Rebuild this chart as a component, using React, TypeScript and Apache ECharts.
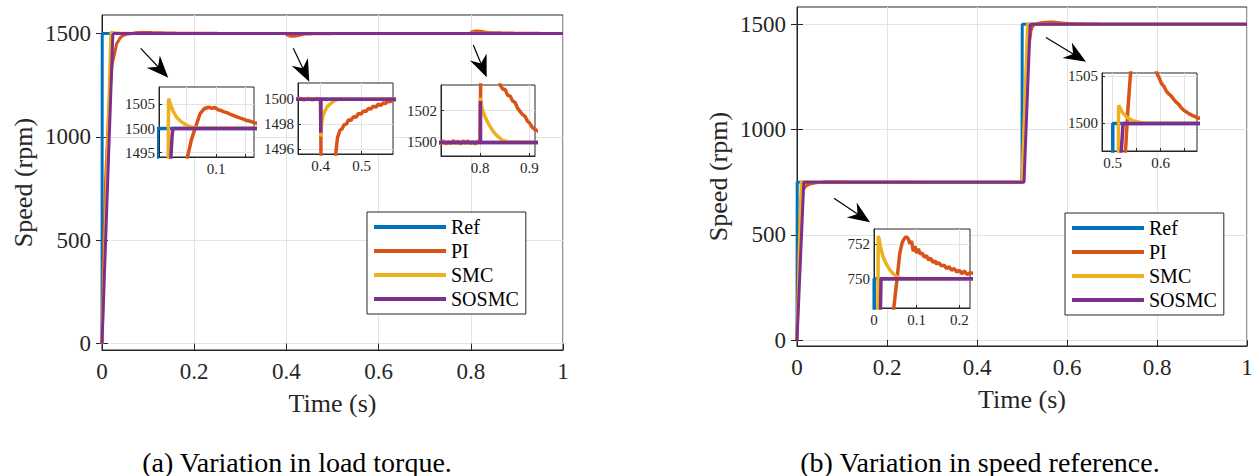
import React, { useEffect, useRef } from 'react';
import * as echarts from 'echarts';

const FONT = 'Liberation Serif';
const C_REF = '#0072BD';
const C_PI = '#D95319';
const C_SMC = '#EDB120';
const C_SOSMC = '#7E2F8E';
const AXIS_C = '#262626';
const GRID_C = '#e3e3e3';

// ---------- DATA: (a) Variation in load torque ----------
const refA = [[0, 0], [0.0005, 1500], [1, 1500]];
const piA = [
  [0, 0], [0.003, 400], [0.008, 800], [0.015, 1150], [0.022, 1350], [0.032, 1451], [0.04, 1480], [0.046, 1490],
  [0.0514, 1494], [0.058, 1497.6], [0.0644, 1500], [0.0729, 1503.1], [0.08, 1504.1], [0.087, 1504.4], [0.093, 1504.2],
  [0.098, 1504.35], [0.103, 1503.9], [0.107, 1503.8], [0.112, 1503.5], [0.118, 1503.3], [0.123, 1503.0], [0.129, 1502.7],
  [0.135, 1502.4], [0.141, 1502.15], [0.146, 1501.95], [0.152, 1501.65], [0.158, 1501.5], [0.164, 1501.2], [0.2, 1500.6],
  [0.25, 1500.25], [0.3, 1500.1], [0.34, 1500.02], [0.35, 1500.06], [0.36, 1499.95], [0.37, 1500.06], [0.38, 1499.95],
  [0.39, 1500.05], [0.4, 1500], [0.4015, 1492], [0.41, 1486], [0.42, 1487], [0.43, 1492], [0.437, 1495.7], [0.441, 1496.9],
  [0.447, 1497.5], [0.452, 1497.6], [0.457, 1497.95], [0.463, 1498.0], [0.468, 1498.35], [0.474, 1498.3], [0.48, 1498.6],
  [0.486, 1498.55], [0.492, 1498.85], [0.498, 1498.8], [0.504, 1499.05], [0.51, 1499.0], [0.516, 1499.25], [0.522, 1499.2],
  [0.528, 1499.45], [0.534, 1499.35], [0.54, 1499.6], [0.546, 1499.5], [0.552, 1499.7], [0.558, 1499.65], [0.564, 1499.85],
  [0.57, 1499.8], [0.576, 1499.95], [0.6, 1500], [0.65, 1500.02], [0.72, 1499.95], [0.725, 1500.1], [0.73, 1499.9],
  [0.735, 1500.05], [0.74, 1499.92], [0.745, 1500.12], [0.75, 1499.95], [0.755, 1500.08], [0.76, 1499.9], [0.765, 1500.1],
  [0.77, 1499.95], [0.775, 1500.1], [0.78, 1499.92], [0.785, 1500.05], [0.79, 1499.9], [0.795, 1500.08], [0.8, 1500],
  [0.8015, 1507], [0.81, 1512], [0.82, 1510], [0.83, 1506.5], [0.8406, 1503.6], [0.846, 1503.35], [0.851, 1503.3],
  [0.856, 1502.95], [0.861, 1502.9], [0.866, 1502.6], [0.871, 1502.5], [0.876, 1502.15], [0.881, 1501.95], [0.886, 1501.75],
  [0.891, 1501.65], [0.896, 1501.35], [0.901, 1501.2], [0.906, 1500.95], [0.912, 1500.8], [0.95, 1500.3], [1, 1500.1],
];
const smcA = [
  [0, 0], [0.0185, 1470], [0.0192, 1500], [0.0197, 1506.2], [0.022, 1505.2], [0.026, 1503.9], [0.03, 1503.0],
  [0.0334, 1502.3], [0.039, 1501.6], [0.0446, 1501.1], [0.05, 1500.7], [0.056, 1500.4], [0.063, 1500.15], [0.07, 1500.05],
  [0.4, 1500], [0.4003, 1497.0], [0.403, 1498.2], [0.406, 1498.7], [0.4105, 1499.05], [0.416, 1499.4], [0.4227, 1499.6],
  [0.432, 1499.85], [0.443, 1500], [0.8, 1500], [0.8003, 1502.8], [0.804, 1502.1], [0.8085, 1501.7], [0.8136, 1501.35],
  [0.819, 1501.05], [0.824, 1500.8], [0.83, 1500.55], [0.837, 1500.35], [0.846, 1500.12], [0.86, 1500.02], [1, 1500],
];
const sosmcA = [
  [0, 0], [0.0235, 1494], [0.0255, 1498.5], [0.027, 1500], [0.4, 1500], [0.4003, 1497.3], [0.4006, 1500],
  [0.8, 1500], [0.8003, 1502.6], [0.8006, 1500], [1, 1500],
];

// ---------- DATA: (b) Variation in speed reference ----------
const refB = [[0, 0], [0.0005, 750], [0.5, 750], [0.5005, 1500], [1, 1500]];
const piB = [
  [0, 0], [0.004, 400], [0.008, 650], [0.012, 710], [0.02, 732], [0.03, 742], [0.04, 746.5], [0.0464, 748.3], [0.054, 750],
  [0.0605, 751.5], [0.066, 752.1], [0.07, 752.3], [0.0746, 752.45], [0.08, 752.35], [0.084, 752.05], [0.088, 752.2],
  [0.092, 751.6], [0.096, 751.9], [0.1, 751.5], [0.104, 751.75], [0.108, 751.45], [0.113, 751.5], [0.118, 751.25],
  [0.123, 751.35], [0.128, 751.1], [0.133, 751.2], [0.138, 750.95], [0.143, 751.05], [0.147, 750.85], [0.152, 750.95],
  [0.158, 750.75], [0.164, 750.8], [0.17, 750.6], [0.176, 750.7], [0.182, 750.5], [0.188, 750.6], [0.194, 750.4],
  [0.2, 750.5], [0.206, 750.3], [0.212, 750.45], [0.218, 750.25], [0.225, 750.35], [0.3, 750.1], [0.4, 750.03], [0.5, 750],
  [0.502, 880], [0.506, 1080], [0.51, 1250], [0.515, 1390], [0.52, 1470], [0.5235, 1490], [0.527, 1497.1], [0.532, 1501.5],
  [0.5375, 1505.3], [0.545, 1508], [0.555, 1510], [0.565, 1510.2], [0.575, 1509], [0.585, 1507], [0.592, 1505.3],
  [0.597, 1504.8], [0.602, 1504.2], [0.607, 1503.9], [0.612, 1503.4], [0.617, 1503.1], [0.622, 1502.9], [0.628, 1502.5],
  [0.633, 1502.2], [0.638, 1502.0], [0.643, 1501.65], [0.648, 1501.4], [0.654, 1501.2], [0.66, 1501.0], [0.666, 1500.85],
  [0.671, 1500.75], [0.676, 1500.6], [0.72, 1500.3], [0.8, 1500.1], [1, 1500],
];
const smcB = [
  [0, 0], [0.009, 748], [0.0095, 750.5], [0.0099, 752.5], [0.012, 752.3], [0.015, 751.9], [0.018, 751.6], [0.021, 751.3],
  [0.027, 750.95], [0.033, 750.7], [0.039, 750.45], [0.045, 750.3], [0.052, 750.15], [0.06, 750.05], [0.075, 750],
  [0.5, 750], [0.5015, 750], [0.512, 1497], [0.5124, 1500], [0.5128, 1501.9], [0.516, 1501.6], [0.52, 1501.2],
  [0.527, 1500.8], [0.534, 1500.5], [0.542, 1500.3], [0.551, 1500.17], [0.565, 1500.03], [1, 1500],
];
const sosmcB = [
  [0, 0], [0.015, 748], [0.0165, 750], [0.5, 750], [0.5045, 750], [0.518, 1497], [0.522, 1500], [1, 1500],
];

// ---------- tick values ----------
const mainXTicks = [0, 0.2, 0.4, 0.6, 0.8, 1];
const mainYTicks = [0, 500, 1000, 1500];
const legendNames = ['Ref', 'PI', 'SMC', 'SOSMC'];
const captionA = '(a) Variation in load torque.';
const captionB = '(b) Variation in speed reference.';

// ---------- layout (pixels) ----------
const panels = [
  { left: 102, top: 15, width: 461, height: 335, xMin: 0, xMax: 1, yMin: -31, yMax: 1589, xt: mainXTicks, xl: mainXTicks, yt: mainYTicks, scen: 'A', main: true },
  { left: 797, top: 7, width: 450, height: 339, xMin: 0, xMax: 1, yMin: -28, yMax: 1582, xt: mainXTicks, xl: mainXTicks, yt: mainYTicks, scen: 'B', main: true },
  { left: 159, top: 87, width: 95, height: 70, xMin: 0.0034, xMax: 0.164, yMin: 1494.1, yMax: 1508.6, xt: [0.05, 0.1, 0.15], xl: [0.1], yt: [1495, 1500, 1505], scen: 'A' },
  { left: 298, top: 83, width: 95, height: 71, xMin: 0.345, xMax: 0.576, yMin: 1495.6, yMax: 1501.3, xt: [0.4, 0.5], xl: [0.4, 0.5], yt: [1496, 1498, 1500], scen: 'A' },
  { left: 441, top: 85, width: 94, height: 71, xMin: 0.72, xMax: 0.9116, yMin: 1499.15, yMax: 1503.6, xt: [0.8, 0.9], xl: [0.8, 0.9], yt: [1500, 1502], scen: 'A' },
  { left: 1102, top: 73, width: 95, height: 78, xMin: 0.478, xMax: 0.676, yMin: 1497.1, yMax: 1505.3, xt: [0.5, 0.55, 0.6, 0.65], xl: [0.5, 0.6], yt: [1500, 1505], scen: 'B' },
  { left: 874, top: 229, width: 96, height: 79, xMin: 0, xMax: 0.225, yMin: 748.3, yMax: 752.9, xt: [0, 0.1, 0.2], xl: [0, 0.1, 0.2], yt: [750, 752], scen: 'B' },
];

const arrows = [
  { from: [140.7, 48.3], to: [168.3, 77.7] },
  { from: [293.3, 48.3], to: [309.3, 81.7] },
  { from: [473.3, 45], to: [486.7, 77.3] },
  { from: [1046, 37.5], to: [1086, 61.7] },
  { from: [834, 198.3], to: [870, 222.3] },
];

const fmt = (v: number) => String(v);

function arrowGraphics() {
  const out: any[] = [];
  arrows.forEach((a) => {
    const [x0, y0] = a.from;
    const [x1, y1] = a.to;
    const dx = x1 - x0, dy = y1 - y0;
    const len = Math.sqrt(dx * dx + dy * dy);
    const ux = dx / len, uy = dy / len;
    const nx = -uy, ny = ux;
    const L = 22, W = 18, N = 7;
    const bx = x1 - ux * L, by = y1 - uy * L;
    const c1 = [bx + nx * W / 2, by + ny * W / 2];
    const c2 = [bx - nx * W / 2, by - ny * W / 2];
    const notch = [bx + ux * N, by + uy * N];
    out.push({ type: 'line', z: 50, shape: { x1: x0, y1: y0, x2: notch[0], y2: notch[1] }, style: { stroke: '#000', lineWidth: 1.2 } });
    out.push({ type: 'polygon', z: 50, shape: { points: [[x1, y1], c1, notch, c2] }, style: { fill: '#000' } });
  });
  return out;
}

function buildOption() {
  const scen: any = {
    A: { Ref: refA, PI: piA, SMC: smcA, SOSMC: sosmcA },
    B: { Ref: refB, PI: piB, SMC: smcB, SOSMC: sosmcB },
  };
  const colors: any = { Ref: C_REF, PI: C_PI, SMC: C_SMC, SOSMC: C_SOSMC };
  const grid: any[] = [];
  const xAxis: any[] = [];
  const yAxis: any[] = [];
  const series: any[] = [];

  panels.forEach((p, i) => {
    const main = !!p.main;
    grid.push({
      left: p.left, top: p.top, width: p.width, height: p.height,
      show: true, backgroundColor: '#fff', borderColor: AXIS_C, borderWidth: 1,
      z: main ? 0 : 10, containLabel: false,
    });
    const labelFont = main ? 23 : 15;
    xAxis.push({
      type: 'value', gridIndex: i, min: p.xMin, max: p.xMax, z: main ? 1 : 11,
      axisLine: { show: true, onZero: false, lineStyle: { color: AXIS_C, width: 1 } },
      axisTick: { show: true, inside: true, length: main ? 6 : 3, customValues: p.xt, lineStyle: { color: AXIS_C } },
      axisLabel: { show: true, customValues: p.xl, formatter: fmt, margin: main ? 10 : 4, fontSize: labelFont, fontFamily: FONT, color: AXIS_C },
      splitLine: { show: true, lineStyle: { color: GRID_C, width: 1 } },
      name: main ? 'Time (s)' : '', nameLocation: 'middle', nameGap: 40,
      nameTextStyle: { fontSize: 26, fontFamily: FONT, color: AXIS_C },
    });
    yAxis.push({
      type: 'value', gridIndex: i, min: p.yMin, max: p.yMax, z: main ? 1 : 11,
      axisLine: { show: true, onZero: false, lineStyle: { color: AXIS_C, width: 1 } },
      axisTick: { show: true, inside: true, length: main ? 6 : 3, customValues: p.yt, lineStyle: { color: AXIS_C } },
      axisLabel: { show: true, customValues: p.yt, formatter: fmt, margin: main ? 11 : 4, fontSize: labelFont, fontFamily: FONT, color: AXIS_C },
      splitLine: { show: true, lineStyle: { color: GRID_C, width: 1 } },
      name: main ? 'Speed (rpm)' : '', nameLocation: 'middle', nameGap: 66,
      nameTextStyle: { fontSize: 26, fontFamily: FONT, color: AXIS_C },
    });
    const data = scen[p.scen];
    legendNames.forEach((nm) => {
      series.push({
        type: 'line', name: nm, xAxisIndex: i, yAxisIndex: i, data: data[nm],
        showSymbol: false, symbol: 'none', clip: true, z: main ? 2 : 12,
        lineStyle: { color: colors[nm], width: main ? 3 : 3.5 },
        itemStyle: { color: colors[nm] },
        emphasis: { disabled: true },
      });
    });
  });

  [0, 1].forEach((i) => {
    const p = panels[i];
    xAxis.push({
      type: 'value', gridIndex: i, position: 'top', min: p.xMin, max: p.xMax, z: 1,
      axisLine: { show: false }, axisLabel: { show: false }, splitLine: { show: false },
      axisTick: { show: true, inside: true, length: 6, customValues: p.xt, lineStyle: { color: AXIS_C } },
    });
    yAxis.push({
      type: 'value', gridIndex: i, position: 'right', min: p.yMin, max: p.yMax, z: 1,
      axisLine: { show: false }, axisLabel: { show: false }, splitLine: { show: false },
      axisTick: { show: true, inside: true, length: 6, customValues: p.yt, lineStyle: { color: AXIS_C } },
    });
  });

  const legendBase = {
    data: legendNames, orient: 'vertical', icon: 'rect', itemWidth: 72, itemHeight: 4, itemGap: 4,
    padding: [5, 7, 5, 7], backgroundColor: '#fff', borderColor: AXIS_C, borderWidth: 1, borderRadius: 0,
    textStyle: { fontSize: 20, fontFamily: FONT, color: '#000' }, z: 20, selectedMode: false,
  };

  const graphic: any[] = [
    ...arrowGraphics(),
    { type: 'text', x: 297, y: 462, z: 50, style: { text: captionA, font: '28px Liberation Serif', fill: '#000', align: 'center', verticalAlign: 'middle' } },
    { type: 'text', x: 980, y: 462, z: 50, style: { text: captionB, font: '28px Liberation Serif', fill: '#000', align: 'center', verticalAlign: 'middle' } },
  ];

  return {
    animation: false,
    backgroundColor: '#fff',
    textStyle: { fontFamily: FONT },
    grid, xAxis, yAxis, series,
    legend: [
      { ...legendBase, left: 367, top: 212 },
      { ...legendBase, left: 1065, top: 213 },
    ],
    graphic,
  };
}

export default function App() {
  const ref = useRef<HTMLDivElement>(null);
  useEffect(() => {
    const chart = echarts.init(ref.current as HTMLDivElement, null, { renderer: 'svg' });
    chart.setOption(buildOption() as any);
    return () => chart.dispose();
  }, []);
  return (
    <div
      ref={ref}
      style={{ position: 'absolute', left: 0, top: 0, width: 1259, height: 476, background: '#fff' }}
    />
  );
}
